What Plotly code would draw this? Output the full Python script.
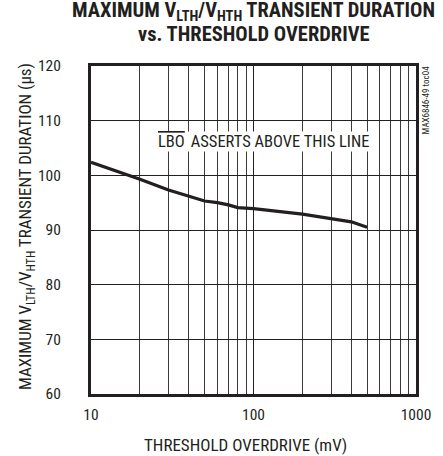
import plotly.graph_objects as go

overdrive_mv = [10, 20, 30, 40, 50, 60, 70, 80, 100, 200, 300, 400, 500]
duration_us = [102.4, 99.3, 97.3, 96.2, 95.3, 95.0, 94.6, 94.1, 93.9, 92.9, 92.1, 91.5, 90.5]

x_ticks = [10, 100, 1000]
y_ticks = [60, 70, 80, 90, 100, 110, 120]

FONT = "Roboto Condensed, DejaVu Sans Condensed, sans-serif"
INK = "#231f20"

minor_x = [m * d for d in (10, 100) for m in range(2, 10)]

fig = go.Figure()
fig.add_trace(go.Scatter(x=overdrive_mv, y=duration_us, mode="lines",
                         line=dict(color=INK, width=3.2), showlegend=False))

fig.update_layout(
    width=443, height=456,
    margin=dict(l=91, r=23, t=66, b=62),
    paper_bgcolor="white", plot_bgcolor="white",
    font=dict(family=FONT, size=15.5, color=INK),
    xaxis=dict(type="log", range=[1, 3], tickvals=x_ticks, ticktext=[str(v) for v in x_ticks],
               showgrid=True, gridcolor=INK, gridwidth=1,
               minor=dict(tickvals=minor_x, showgrid=True, gridcolor="#3a3a3a", gridwidth=1, ticks=""),
               showline=True, linecolor=INK, linewidth=3, mirror=True,
               ticks="", ticklabelstandoff=4, zeroline=False),
    yaxis=dict(range=[60, 120], tickvals=y_ticks,
               showgrid=True, gridcolor=INK, gridwidth=1,
               showline=True, linecolor=INK, linewidth=3, mirror=True,
               ticks="", ticklabelstandoff=24, zeroline=False),
)

# axis titles
fig.add_annotation(xref="paper", yref="paper", x=0.475, y=-0.155, showarrow=False,
                   text="THRESHOLD OVERDRIVE (mV)", font=dict(size=17, family=FONT),
                   xanchor="center", yanchor="middle")
fig.add_annotation(xref="paper", yref="paper", x=-0.2, y=0.509, showarrow=False,
                   text="MAXIMUM V<sub>LTH</sub>/V<sub>HTH</sub> TRANSIENT DURATION (µs)",
                   textangle=-90, font=dict(size=17, family=FONT),
                   xanchor="center", yanchor="middle")

# chart title
fig.add_annotation(xref="paper", yref="paper", x=0.5, y=1.0, yshift=55, showarrow=False,
                   text="<b>MAXIMUM V<sub>LTH</sub>/V<sub>HTH</sub> TRANSIENT DURATION</b>",
                   font=dict(size=20.5, family=FONT), xanchor="center", yanchor="middle")
fig.add_annotation(xref="paper", yref="paper", x=0.5, y=1.0, yshift=32, showarrow=False,
                   text="<b>vs. THRESHOLD OVERDRIVE</b>",
                   font=dict(size=20.5, family=FONT), xanchor="center", yanchor="middle")

# in-plot label
fig.add_annotation(xref="paper", yref="paper", x=0.292, y=0.77, showarrow=False,
                   text="LBO", bgcolor="white", borderpad=0,
                   font=dict(size=16.5, family=FONT, lineposition="over"),
                   xanchor="right", yanchor="middle")
fig.add_annotation(xref="paper", yref="paper", x=0.292, y=0.77, showarrow=False,
                   text="&nbsp;ASSERTS ABOVE THIS LINE", bgcolor="white", borderpad=0,
                   font=dict(size=16.5, family=FONT),
                   xanchor="left", yanchor="middle")

fig.add_annotation(xref="paper", yref="paper", x=1.0, y=1.0, xshift=9, yshift=2, showarrow=False,
                   text="MAX6846-49 toc04", textangle=-90, xanchor="center", yanchor="top",
                   font=dict(size=9, family=FONT))

fig.write_html("out.html", config={"displayModeBar": False},
               post_script="document.body.style.margin='0';")
